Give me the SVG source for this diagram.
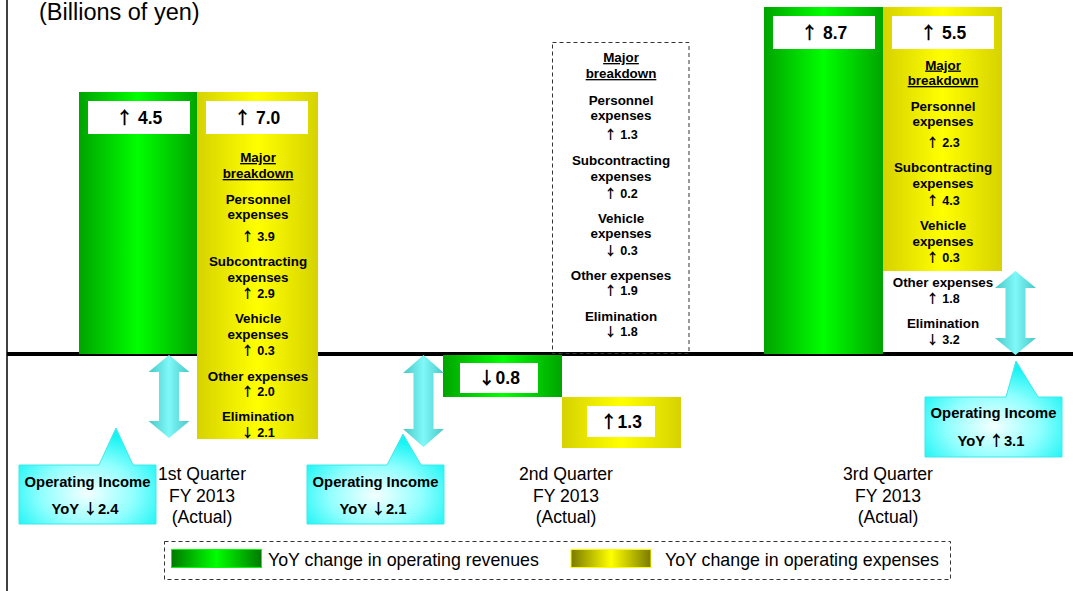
<svg xmlns="http://www.w3.org/2000/svg" width="1073" height="591" viewBox="0 0 1073 591">
  <style>
    text { font-family: "Liberation Sans", Arial, Helvetica, sans-serif; fill: #000; }
    .ar { font-family: "Noto Sans CJK JP", "Noto Sans CJK SC", sans-serif; font-weight: bold; }
    .title { font-size: 23.5px; }
    .big { font-size: 17.5px; font-weight: bold; text-anchor: middle; }
    .bd { font-size: 13.4px; font-weight: bold; text-anchor: middle; }
    .val { font-size: 12.6px; font-weight: bold; text-anchor: middle; }
    .u { text-decoration: underline; }
    .co { font-size: 14.8px; font-weight: bold; text-anchor: middle; }
    .q { font-size: 17.6px; text-anchor: middle; }
    .leg { font-size: 17.8px; }
    .rev { fill: url(#gRev); }
    .exp { fill: url(#gExp); }
    .box { fill: #fff; }
    .arrow { fill: url(#gArrow); }
    .callout { fill: url(#gCallout); stroke: #3fe8e8; stroke-width: 1; }
    .dash { fill: none; stroke: #333; stroke-width: 1; stroke-dasharray: 4 3; }
  </style>
  <defs>
    <linearGradient id="gRev" x1="0" y1="0" x2="1" y2="0">
      <stop offset="0" stop-color="#00a400"/>
      <stop offset="0.5" stop-color="#00ff00"/>
      <stop offset="1" stop-color="#00a400"/>
    </linearGradient>
    <linearGradient id="gExp" x1="0" y1="0" x2="1" y2="0">
      <stop offset="0" stop-color="#d6d200"/>
      <stop offset="0.5" stop-color="#ffff00"/>
      <stop offset="1" stop-color="#d6d200"/>
    </linearGradient>
    <linearGradient id="gLegRev" x1="0" y1="0" x2="1" y2="0">
      <stop offset="0" stop-color="#007a00"/>
      <stop offset="0.5" stop-color="#00ff00"/>
      <stop offset="1" stop-color="#007a00"/>
    </linearGradient>
    <linearGradient id="gLegExp" x1="0" y1="0" x2="1" y2="0">
      <stop offset="0" stop-color="#7a7a00"/>
      <stop offset="0.5" stop-color="#ffff00"/>
      <stop offset="1" stop-color="#7a7a00"/>
    </linearGradient>
    <linearGradient id="gArrow" x1="0" y1="0" x2="1" y2="0">
      <stop offset="0" stop-color="#48c8c8"/>
      <stop offset="0.5" stop-color="#7ff8f8"/>
      <stop offset="1" stop-color="#48c8c8"/>
    </linearGradient>
    <radialGradient id="gCallout" cx="0.5" cy="0.68" r="0.62">
      <stop offset="0" stop-color="#f4ffff"/>
      <stop offset="0.55" stop-color="#90ffff"/>
      <stop offset="1" stop-color="#18f4f4"/>
    </radialGradient>
  </defs>

  <!-- frame edge and unit label -->
  <line x1="7" y1="0" x2="7" y2="591" stroke="#000" stroke-width="1.5"/>
  <text class="title" x="39" y="19.5">(Billions of yen)</text>

  <!-- zero axis -->
  <rect x="7" y="352" width="1066" height="4" fill="#000"/>

  <!-- 1st quarter -->
  <g id="q1-revenue">
    <rect class="rev" x="79" y="92" width="118" height="262"/>
    <rect class="box" x="88" y="101" width="102" height="33"/>
    <text class="big" x="139" y="124"><tspan class="ar">↑</tspan> 4.5</text>
  </g>
  <g id="q1-expense">
    <rect class="exp" x="197" y="92" width="121" height="347"/>
    <rect class="box" x="206" y="101" width="102" height="33"/>
    <text class="big" x="257" y="124"><tspan class="ar">↑</tspan> 7.0</text>
    <text class="bd u" x="258" y="162">Major</text>
    <text class="bd u" x="258" y="178">breakdown</text>
    <text class="bd" x="258" y="203.5">Personnel</text>
    <text class="bd" x="258" y="219">expenses</text>
    <text class="val" x="258" y="240.5"><tspan class="ar">↑</tspan> 3.9</text>
    <text class="bd" x="258" y="266">Subcontracting</text>
    <text class="bd" x="258" y="282">expenses</text>
    <text class="val" x="258" y="297.5"><tspan class="ar">↑</tspan> 2.9</text>
    <text class="bd" x="258" y="322.5">Vehicle</text>
    <text class="bd" x="258" y="338.5">expenses</text>
    <text class="val" x="258" y="355"><tspan class="ar">↑</tspan> 0.3</text>
    <text class="bd" x="258" y="381">Other expenses</text>
    <text class="val" x="258" y="395.5"><tspan class="ar">↑</tspan> 2.0</text>
    <text class="bd" x="258" y="421">Elimination</text>
    <text class="val" x="258" y="436.5"><tspan class="ar">↓</tspan> 2.1</text>
  </g>
  <g id="q1-income">
    <path class="callout" d="M19,465 H99 L116,428 L133,465 H156 V524 H19 Z"/>
    <text class="co" x="87.5" y="486.5">Operating Income</text>
    <text class="co" x="85" y="514">YoY <tspan class="ar">↓</tspan>2.4</text>
  </g>
  <g id="q1-label">
    <text class="q" x="202" y="480">1st Quarter</text>
    <text class="q" x="202" y="501.5">FY 2013</text>
    <text class="q" x="202" y="523">(Actual)</text>
  </g>

  <!-- 2nd quarter -->
  <g id="q2-revenue">
    <rect class="rev" x="443" y="355" width="119" height="42"/>
    <rect class="box" x="460" y="363" width="78" height="30"/>
    <text class="big" x="499" y="384"><tspan class="ar">↓</tspan>0.8</text>
  </g>
  <g id="q2-expense">
    <rect class="exp" x="562" y="397" width="119" height="51"/>
    <rect class="box" x="587" y="406" width="68" height="31"/>
    <text class="big" x="621" y="427.5"><tspan class="ar">↑</tspan>1.3</text>
  </g>
  <g id="q2-breakdown">
    <rect class="dash" x="552.5" y="42.5" width="136.5" height="311"/>
    <text class="bd u" x="621" y="62">Major</text>
    <text class="bd u" x="621" y="78">breakdown</text>
    <text class="bd" x="621" y="104.5">Personnel</text>
    <text class="bd" x="621" y="119.5">expenses</text>
    <text class="val" x="621" y="139"><tspan class="ar">↑</tspan> 1.3</text>
    <text class="bd" x="621" y="165">Subcontracting</text>
    <text class="bd" x="621" y="181">expenses</text>
    <text class="val" x="621" y="197.5"><tspan class="ar">↑</tspan> 0.2</text>
    <text class="bd" x="621" y="223">Vehicle</text>
    <text class="bd" x="621" y="238">expenses</text>
    <text class="val" x="621" y="254.5"><tspan class="ar">↓</tspan> 0.3</text>
    <text class="bd" x="621" y="279.5">Other expenses</text>
    <text class="val" x="621" y="294.5"><tspan class="ar">↑</tspan> 1.9</text>
    <text class="bd" x="621" y="320.5">Elimination</text>
    <text class="val" x="621" y="336"><tspan class="ar">↓</tspan> 1.8</text>
  </g>
  <g id="q2-income">
    <path class="callout" d="M307,465 H387 L403,434 L421,465 H444 V524 H307 Z"/>
    <text class="co" x="375.5" y="486.5">Operating Income</text>
    <text class="co" x="373" y="514">YoY <tspan class="ar">↓</tspan>2.1</text>
  </g>
  <g id="q2-label">
    <text class="q" x="566" y="480">2nd Quarter</text>
    <text class="q" x="566" y="501.5">FY 2013</text>
    <text class="q" x="566" y="523">(Actual)</text>
  </g>

  <!-- 3rd quarter -->
  <g id="q3-revenue">
    <rect class="rev" x="764" y="7" width="119" height="347"/>
    <rect class="box" x="773" y="16" width="102" height="33"/>
    <text class="big" x="824" y="38.5"><tspan class="ar">↑</tspan> 8.7</text>
  </g>
  <g id="q3-expense">
    <rect class="exp" x="883" y="7" width="119" height="264"/>
    <rect class="box" x="892" y="16" width="102" height="33"/>
    <text class="big" x="943" y="38.5"><tspan class="ar">↑</tspan> 5.5</text>
    <text class="bd u" x="943" y="69.5">Major</text>
    <text class="bd u" x="943" y="85">breakdown</text>
    <text class="bd" x="943" y="110.5">Personnel</text>
    <text class="bd" x="943" y="125.5">expenses</text>
    <text class="val" x="943" y="147"><tspan class="ar">↑</tspan> 2.3</text>
    <text class="bd" x="943" y="172">Subcontracting</text>
    <text class="bd" x="943" y="188">expenses</text>
    <text class="val" x="943" y="205"><tspan class="ar">↑</tspan> 4.3</text>
    <text class="bd" x="943" y="229.5">Vehicle</text>
    <text class="bd" x="943" y="246">expenses</text>
    <text class="val" x="943" y="262"><tspan class="ar">↑</tspan> 0.3</text>
    <text class="bd" x="943" y="287">Other expenses</text>
    <text class="val" x="943" y="303"><tspan class="ar">↑</tspan> 1.8</text>
    <text class="bd" x="943" y="328">Elimination</text>
    <text class="val" x="943" y="343.5"><tspan class="ar">↓</tspan> 3.2</text>
  </g>
  <g id="q3-income">
    <path class="callout" d="M925,397 H1006 L1016,361 L1038,397 H1062 V457 H925 Z"/>
    <text class="co" x="993.5" y="418">Operating Income</text>
    <text class="co" x="991" y="446">YoY <tspan class="ar">↑</tspan>3.1</text>
  </g>
  <g id="q3-label">
    <text class="q" x="888" y="480">3rd Quarter</text>
    <text class="q" x="888" y="501.5">FY 2013</text>
    <text class="q" x="888" y="523">(Actual)</text>
  </g>

  <!-- double-headed arrows spanning revenue/expense gap -->
  <g id="connectors">
    <path class="arrow" d="M169,355 L189.5,372 H179 V421 H189.5 L169,438 L148.5,421 H159 V372 H148.5 Z"/>
    <path class="arrow" d="M423.5,355 L444,373 H433.5 V429 H444 L423.5,447 L403,429 H413.5 V373 H403 Z"/>
    <path class="arrow" d="M1015.5,271 L1036,288 H1025.5 V338 H1036 L1015.5,355 L995,338 H1005.5 V288 H995 Z"/>
  </g>

  <!-- legend -->
  <g id="legend">
    <rect class="dash" x="164.5" y="541.5" width="786" height="38" stroke="#000"/>
    <rect x="171.5" y="549.5" width="90" height="18" fill="url(#gLegRev)" stroke="#00ff00" stroke-width="1"/>
    <text class="leg" x="268" y="565.5">YoY change in operating revenues</text>
    <rect x="571" y="549.5" width="80" height="18" fill="url(#gLegExp)" stroke="#ffff00" stroke-width="1"/>
    <text class="leg" x="665" y="565.5">YoY change in operating expenses</text>
  </g>
</svg>
